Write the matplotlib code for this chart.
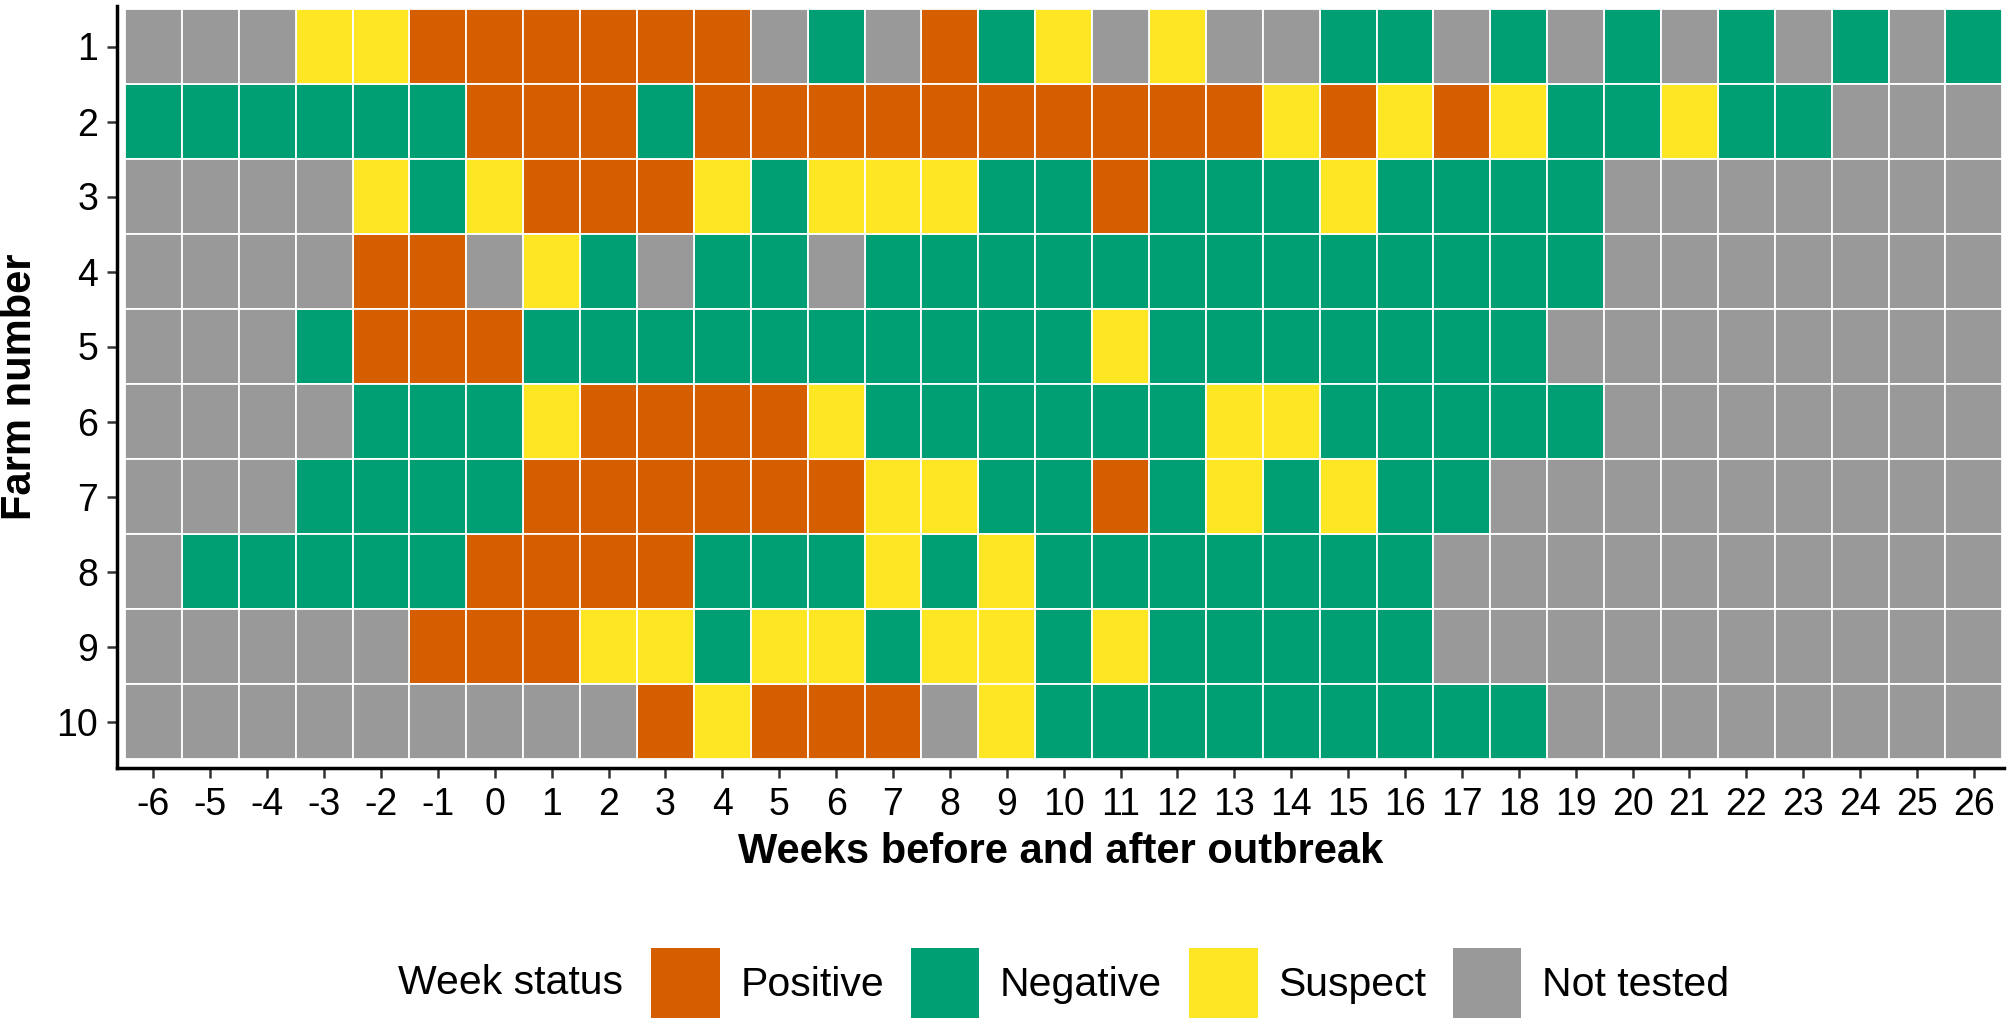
import matplotlib
matplotlib.use("Agg")
import matplotlib.pyplot as plt
from matplotlib.patches import Patch

plt.rcParams["font.family"] = ["Liberation Sans", "DejaVu Sans"]
plt.rcParams["axes.unicode_minus"] = False

weeks = list(range(-6, 27))
farms = list(range(1, 11))

# one code per week (-6 .. 26): P positive, N negative, S suspect, X not tested
farm_status = [
    "XXXSSPPPPPPXNXPNSXSXXNNXNXNXNXNXN",
    "NNNNNNPPPNPPPPPPPPPPSPSPSNNSNNXXX",
    "XXXXSNSPPPSNSSSNNPNNNSNNNNXXXXXXX",
    "XXXXPPXSNXNNXNNNNNNNNNNNNNXXXXXXX",
    "XXXNPPPNNNNNNNNNNSNNNNNNNXXXXXXXX",
    "XXXXNNNSPPPPSNNNNNNSSNNNNNXXXXXXX",
    "XXXNNNNPPPPPPSSNNPNSNSNNXXXXXXXXX",
    "XNNNNNPPPPNNNSNSNNNNNNNXXXXXXXXXX",
    "XXXXXPPPSSNSSNSSNSNNNNNXXXXXXXXXX",
    "XXXXXXXXXPSPPPXSNNNNNNNNNXXXXXXXX",
]

status_codes = ["P", "N", "S", "X"]
status_labels = ["Positive", "Negative", "Suspect", "Not tested"]
status_colors = ["#D55E00", "#009E73", "#FDE725", "#999999"]

fig = plt.figure(figsize=(20.08, 10.18), dpi=100)
ax = fig.add_axes([117 / 2008, 1 - 768 / 1018, (2004 - 117) / 2008, (768 - 6) / 1018])

for code, col in zip(status_codes, status_colors):
    xs, ys = [], []
    for farm, row in zip(farms, farm_status):
        for wk, c in zip(weeks, row):
            if c == code:
                xs.append(wk)
                ys.append(farm)
    ax.bar(xs, 1, bottom=[y - 0.5 for y in ys], width=1, color=col,
           edgecolor="white", linewidth=1.3, align="center")

ax.set_xlim(-6.64, 26.53)
ax.set_ylim(10.62, 0.46)
ax.set_xticks(weeks)
ax.set_yticks(farms)

for s in ["top", "right"]:
    ax.spines[s].set_visible(False)
for s in ["left", "bottom"]:
    ax.spines[s].set_linewidth(2.5)
    ax.spines[s].set_color("black")

ax.tick_params(axis="both", length=7.5, width=1.8, color="#333333",
               labelsize=27, labelcolor="black")
ax.tick_params(axis="x", pad=6)
ax.tick_params(axis="y", pad=6)

ax.set_xlabel("Weeks before and after outbreak", fontsize=30,
              fontweight="bold", labelpad=7)
ax.set_ylabel("Farm number", fontsize=30, fontweight="bold", labelpad=12)

handles = [Patch(facecolor=c, edgecolor="none") for c in status_colors]
leg_y = 1 - 983 / 1018
fig.text(623 / 2008, leg_y, "Week status", fontsize=29.5, ha="right", va="center")
fig.legend(handles, status_labels, loc="center", bbox_to_anchor=(1190 / 2008, leg_y),
           ncol=4, frameon=False, fontsize=29.5, handlelength=1.68, handleheight=2.25,
           handletextpad=0.5, columnspacing=0.65, borderpad=0, borderaxespad=0)

fig.savefig("out.png", dpi=100)
plt.close(fig)
